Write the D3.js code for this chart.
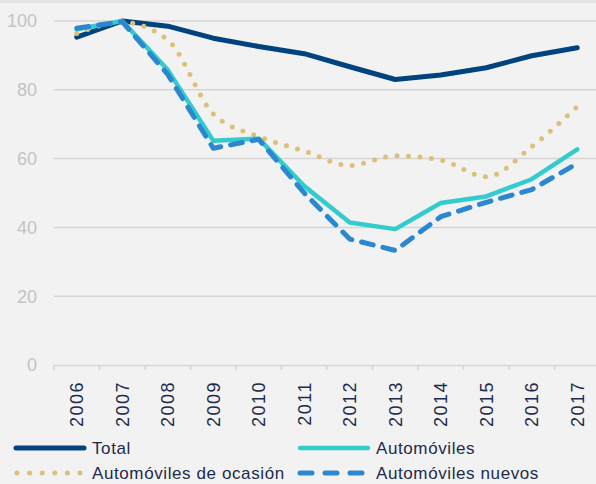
<!DOCTYPE html>
<html lang="es">
<head>
<meta charset="utf-8">
<style>
  html, body { margin: 0; padding: 0; background: #f2f2f2; }
  svg { display: block; font-family: Arial, "Liberation Sans", sans-serif; }
</style>
</head>
<body>
<svg width="596" height="484"></svg>
<script src="https://cdnjs.cloudflare.com/ajax/libs/d3/7.8.5/d3.min.js"></script>
<script>
const years = ["2006","2007","2008","2009","2010","2011","2012","2013","2014","2015","2016","2017"]
const total = [95.3, 100, 98.5, 95, 92.6, 90.5, 86.7, 83, 84.3, 86.4, 89.9, 92.2]
const automoviles = [97.6, 100, 85.8, 65.2, 65.8, 52, 41.4, 39.5, 47.1, 49, 54, 62.7]
const ocasion = [96.4, 99.6, 94.5, 73, 66.4, 62.2, 58, 60.8, 59.6, 54.7, 63.5, 75.1]
const nuevos = [97.9, 99.8, 84.5, 63, 65.6, 50, 36.6, 33.3, 43.1, 47.3, 51, 58.6]
const yTicks = [0, 20, 40, 60, 80, 100]

const W = 596, H = 484
const margin = { left: 54, right: -4, top: 21, bottom: 119 }
const textColor = "#1c2b4b"

const svg = d3.select("svg")

svg.append("rect").attr("width", W).attr("height", H).attr("fill", "#f2f2f2")
svg.append("rect").attr("width", W).attr("height", 3).attr("fill", "#e4e4e4")

const x = d3.scaleBand()
  .domain(years)
  .range([margin.left, W - margin.right])

const y = d3.scaleLinear()
  .domain([0, 100])
  .range([H - margin.bottom, margin.top])

// gridlines
svg.append("g")
  .selectAll("line")
  .data(yTicks.filter(d => d > 0))
  .join("line")
    .attr("x1", margin.left)
    .attr("x2", W)
    .attr("y1", d => y(d))
    .attr("y2", d => y(d))
    .attr("stroke", "#d5d5d5")
    .attr("stroke-width", 1.5)

// y labels
svg.append("g")
  .selectAll("text")
  .data(yTicks)
  .join("text")
    .attr("x", 37)
    .attr("y", d => y(d))
    .attr("dy", "0.35em")
    .attr("text-anchor", "end")
    .attr("fill", "#c3c3c3")
    .attr("font-size", 18)
    .text(d => d)

// x axis
const xAxis = svg.append("g")
  .attr("transform", `translate(0,${y(0)})`)
  .call(d3.axisBottom(x).tickSize(0).tickFormat(""))
xAxis.select(".domain").attr("stroke", "#d5d5d5").attr("stroke-width", 1.5)
xAxis.selectAll(".tick").remove()

svg.append("g")
  .selectAll("line")
  .data(years)
  .join("line")
    .attr("x1", d => x(d))
    .attr("x2", d => x(d))
    .attr("y1", y(0))
    .attr("y2", y(0) + 5)
    .attr("stroke", "#d5d5d5")
    .attr("stroke-width", 1.5)

svg.append("g")
  .selectAll("text")
  .data(years)
  .join("text")
    .attr("transform", d => `translate(${x(d) + x.bandwidth() / 2},${y(0) + 16}) rotate(-90)`)
    .attr("text-anchor", "end")
    .attr("dy", "0.35em")
    .attr("fill", textColor)
    .attr("font-size", 18)
    .attr("letter-spacing", 1.5)
    .text(d => d)

const series = [
  { name: "Total", values: total, color: "#00437f", width: 5, dash: null, curve: d3.curveLinear },
  { name: "Automóviles", values: automoviles, color: "#33cccc", width: 4.5, dash: null, curve: d3.curveLinear },
  { name: "Automóviles de ocasión", values: ocasion, color: "#dcc07a", width: 5, dash: "0 11.5", curve: d3.curveMonotoneX },
  { name: "Automóviles nuevos", values: nuevos, color: "#2b87d0", width: 5, dash: "12 10", curve: d3.curveLinear }
]

const drawOrder = [series[0], series[2], series[1], series[3]]

drawOrder.forEach(s => {
  const line = d3.line()
    .x((d, i) => x(years[i]) + x.bandwidth() / 2)
    .y(d => y(d))
    .curve(s.curve)
  svg.append("path")
    .datum(s.values)
    .attr("d", line)
    .attr("fill", "none")
    .attr("stroke", s.color)
    .attr("stroke-width", s.width)
    .attr("stroke-linecap", "round")
    .attr("stroke-linejoin", "round")
    .attr("stroke-dasharray", s.dash)
})

// legend
const legendPos = [[15, 448], [299, 448], [15, 473], [299, 473]]
series.forEach((s, i) => {
  const [lx, ly] = legendPos[i]
  const g = svg.append("g").attr("transform", `translate(${lx},${ly})`)
  g.append("line")
    .attr("x1", s.dash && s.dash.startsWith("0") ? 2 : 1)
    .attr("x2", s.dash && s.dash.startsWith("0") ? 66 : 69)
    .attr("stroke", s.color)
    .attr("stroke-width", s.width)
    .attr("stroke-linecap", "round")
    .attr("stroke-dasharray", s.dash ? (s.dash.startsWith("0") ? "0 12.6" : "12 13") : null)
  g.append("text")
    .attr("x", 77)
    .attr("dy", "0.35em")
    .attr("fill", textColor)
    .attr("font-size", 17)
    .attr("letter-spacing", 0.6)
    .text(s.name)
})
</script>
</body>
</html>
